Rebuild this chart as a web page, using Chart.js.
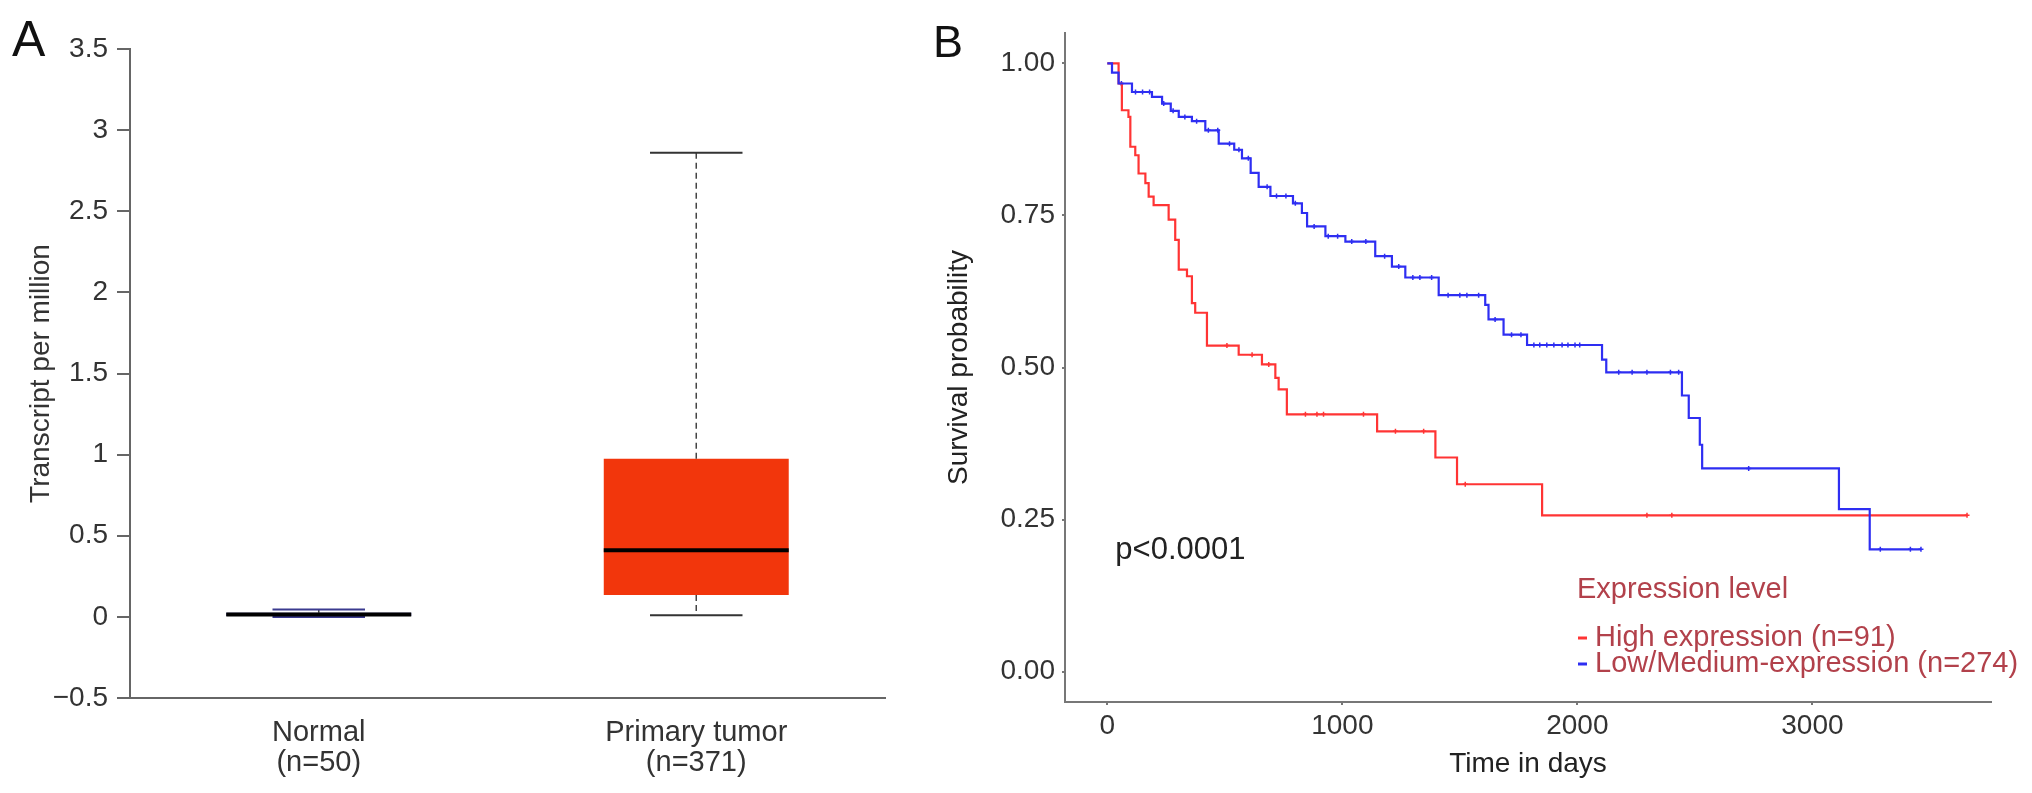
<!DOCTYPE html>
<html>
<head>
<meta charset="utf-8">
<script src="https://cdn.jsdelivr.net/npm/chart.js@4.4.1/dist/chart.umd.min.js"></script>
<style>
  html, body { margin: 0; padding: 0; background: #fff; }
  body { width: 2032px; height: 793px; position: relative; overflow: hidden; font-family: "Liberation Sans", Arial, sans-serif; }
  .panel { position: absolute; top: 0; }
  .tag { position: absolute; line-height: 1; color: #111; }
</style>
</head>
<body>
<canvas id="boxChart" class="panel" style="left:0" width="900" height="793"></canvas>
<canvas id="kmChart" class="panel" style="left:900px" width="1132" height="793"></canvas>
<div class="tag" style="left:12px;top:14px;font-size:50px">A</div>
<div class="tag" style="left:933px;top:19px;font-size:45px">B</div>
<script>
// panel A : box plot
const categories = ['Normal', 'Primary tumor'];
const sampleSizes = [50, 371];
const boxMin = [0.0, 0.01];
const boxQ1 = [0.005, 0.135];
const boxMedian = [0.015, 0.41];
const boxQ3 = [0.025, 0.975];
const boxMax = [0.045, 2.86];
const boxColors = ['#3b3b8f', '#f2360c'];
const yTicksA = [-0.5, 0, 0.5, 1, 1.5, 2, 2.5, 3, 3.5];
const yTickLabelsA = ['\u22120.5', '0', '0.5', '1', '1.5', '2', '2.5', '3', '3.5'];

// panel B : Kaplan-Meier curves (drop day, survival after the drop)
const highDays = [0, 48, 62, 90, 98, 119, 133, 162, 176, 197, 261, 289, 304, 339, 360, 374, 424, 559, 658, 715, 729, 764, 1148, 1396, 1488, 1850, 3658];
const highSurv = [1.0, 0.967, 0.923, 0.912, 0.863, 0.849, 0.819, 0.803, 0.781, 0.767, 0.743, 0.710, 0.661, 0.650, 0.606, 0.590, 0.536, 0.521, 0.505, 0.483, 0.464, 0.423, 0.395, 0.352, 0.308, 0.257, 0.257];
const lowDays = [0, 20, 48, 105, 190, 233, 270, 304, 360, 417, 474, 540, 573, 610, 644, 694, 790, 828, 850, 928, 1013, 1140, 1211, 1268, 1410, 1608, 1622, 1686, 1786, 2105, 2123, 2445, 2474, 2521, 2531, 3113, 3244, 3462];
const lowSurv = [1.0, 0.985, 0.967, 0.953, 0.945, 0.934, 0.922, 0.912, 0.905, 0.890, 0.868, 0.858, 0.844, 0.820, 0.797, 0.782, 0.770, 0.754, 0.732, 0.716, 0.707, 0.683, 0.666, 0.648, 0.619, 0.603, 0.579, 0.554, 0.537, 0.513, 0.492, 0.454, 0.417, 0.373, 0.334, 0.267, 0.201, 0.201];
const highCensor = [509, 616, 687, 843, 892, 920, 1090, 1226, 1346, 1523, 2296, 2402, 3658];
const lowCensor = [60, 120, 150, 180, 240, 280, 330, 380, 430, 470, 520, 560, 600, 680, 720, 760, 800, 880, 940, 980, 1040, 1100, 1180, 1240, 1300, 1330, 1380, 1450, 1500, 1530, 1580, 1650, 1720, 1760, 1815, 1840, 1870, 1900, 1935, 1960, 1990, 2010, 2176, 2233, 2296, 2396, 2431, 2729, 3289, 3417, 3462];
const seriesLabels = ['High expression (n=91)', 'Low/Medium-expression (n=274)'];
const seriesColors = ['#ff3434', '#2e2ef2'];
const legendTitle = 'Expression level';
const xTicksB = [0, 1000, 2000, 3000];
const yTicksB = [0, 0.25, 0.5, 0.75, 1];
const pValueText = 'p<0.0001';
const pValuePos = [34, 0.2];

const FONT = '"Liberation Sans", Arial, sans-serif';
Chart.defaults.font.family = FONT;
Chart.defaults.color = '#333';

function survAt(days, surv, t) {
  let s = surv[0];
  for (let i = 0; i < days.length; i++) {
    if (days[i] <= t) s = surv[i];
  }
  return s;
}

// whiskers, caps and medians drawn on top of the floating bars
const boxWhiskers = {
  id: 'boxWhiskers',
  afterDatasetsDraw(chart) {
    const { ctx, scales: { y } } = chart;
    const meta = chart.getDatasetMeta(0);
    ctx.save();
    categories.forEach((c, i) => {
      const bar = meta.data[i];
      const xc = bar.x, half = bar.width / 2, cap = bar.width / 4;
      ctx.strokeStyle = '#444';
      ctx.lineWidth = 1.5;
      ctx.setLineDash([6, 4]);
      ctx.beginPath();
      ctx.moveTo(xc, y.getPixelForValue(boxQ3[i]));
      ctx.lineTo(xc, y.getPixelForValue(boxMax[i]));
      ctx.moveTo(xc, y.getPixelForValue(boxQ1[i]));
      ctx.lineTo(xc, y.getPixelForValue(boxMin[i]));
      ctx.stroke();
      ctx.setLineDash([]);
      ctx.lineWidth = 2;
      ctx.strokeStyle = i === 0 ? boxColors[0] : '#333';
      ctx.beginPath();
      [boxMin[i], boxMax[i]].forEach(v => {
        const py = y.getPixelForValue(v);
        ctx.moveTo(xc - cap, py);
        ctx.lineTo(xc + cap, py);
      });
      ctx.stroke();
      ctx.lineWidth = 4;
      ctx.strokeStyle = '#000';
      const pm = y.getPixelForValue(boxMedian[i]);
      ctx.beginPath();
      ctx.moveTo(xc - half, pm);
      ctx.lineTo(xc + half, pm);
      ctx.stroke();
    });
    ctx.restore();
  }
};

new Chart(document.getElementById('boxChart'), {
  type: 'bar',
  data: {
    labels: categories.map((c, i) => [c, '(n=' + sampleSizes[i] + ')']),
    datasets: [{
      data: categories.map((c, i) => [boxQ1[i], boxQ3[i]]),
      backgroundColor: boxColors,
      borderWidth: 0,
      borderSkipped: false,
      barPercentage: 0.49,
      categoryPercentage: 1
    }]
  },
  options: {
    responsive: false,
    animation: false,
    devicePixelRatio: 1,
    layout: { padding: { top: 49, right: 15, left: 0, bottom: 0 } },
    plugins: { legend: { display: false }, tooltip: { enabled: false } },
    scales: {
      x: {
        offset: true,
        grid: { display: false },
        border: { display: true, color: '#666', width: 2 },
        ticks: { padding: 12, color: '#333', font: { size: 29, lineHeight: 1.03 } },
        afterFit: s => { s.height = 95; }
      },
      y: {
        min: -0.5,
        max: 3.5,
        afterBuildTicks: s => { s.ticks = yTicksA.map(v => ({ value: v })); },
        grid: { drawOnChartArea: false, tickLength: 13, color: '#666', lineWidth: 2 },
        border: { display: true, color: '#666', width: 2 },
        ticks: { padding: 9, color: '#333', font: { size: 28 }, callback: (v, i) => yTickLabelsA[i] },
        title: { display: true, text: 'Transcript per million', color: '#333', font: { size: 28 }, padding: { top: 24, bottom: 0 } },
        afterFit: s => { s.width = 130; }
      }
    }
  },
  plugins: [boxWhiskers]
});

// p value and legend for panel B
const kmExtras = {
  id: 'kmExtras',
  afterDraw(chart) {
    const { ctx, scales: { x, y } } = chart;
    ctx.save();
    ctx.textBaseline = 'middle';
    ctx.textAlign = 'left';
    ctx.font = '31px ' + FONT;
    ctx.fillStyle = '#222';
    ctx.fillText(pValueText, x.getPixelForValue(pValuePos[0]), y.getPixelForValue(pValuePos[1]));
    ctx.font = '29px ' + FONT;
    ctx.fillStyle = '#b2414b';
    ctx.fillText(legendTitle, 677, 590);
    seriesLabels.forEach((lab, i) => {
      const ly = 638 + i * 26;
      ctx.strokeStyle = seriesColors[i];
      ctx.lineWidth = 3;
      ctx.beginPath();
      ctx.moveTo(678, ly);
      ctx.lineTo(687, ly);
      ctx.stroke();
      ctx.fillStyle = '#b2414b';
      ctx.fillText(lab, 695, ly);
    });
    ctx.restore();
  }
};

function curve(days, surv) {
  return days.map((d, i) => ({ x: d, y: surv[i] }));
}
function censor(days, surv, marks) {
  return marks.map(t => ({ x: t, y: survAt(days, surv, t) }));
}

new Chart(document.getElementById('kmChart'), {
  type: 'line',
  data: {
    datasets: [
      { label: seriesLabels[1], data: curve(lowDays, lowSurv), borderColor: seriesColors[1], borderWidth: 2.2, stepped: true, pointRadius: 0, fill: false },
      { label: seriesLabels[0], data: curve(highDays, highSurv), borderColor: seriesColors[0], borderWidth: 2.2, stepped: true, pointRadius: 0, fill: false },
      { data: censor(lowDays, lowSurv, lowCensor), showLine: false, pointStyle: 'cross', pointRadius: 2.5, pointBorderWidth: 1.5, borderColor: seriesColors[1] },
      { data: censor(highDays, highSurv, highCensor), showLine: false, pointStyle: 'cross', pointRadius: 2.5, pointBorderWidth: 1.5, borderColor: seriesColors[0] }
    ]
  },
  options: {
    responsive: false,
    animation: false,
    devicePixelRatio: 1,
    layout: { padding: { top: 33, right: 41, left: 0, bottom: 0 } },
    plugins: { legend: { display: false }, tooltip: { enabled: false } },
    scales: {
      x: {
        type: 'linear',
        min: -180,
        max: 3760,
        afterBuildTicks: s => { s.ticks = xTicksB.map(v => ({ value: v })); },
        grid: { drawOnChartArea: false, tickLength: 3, color: '#777', lineWidth: 2 },
        border: { display: true, color: '#777', width: 2 },
        ticks: { padding: 4, color: '#333', font: { size: 28 }, callback: v => String(v) },
        title: { display: true, text: 'Time in days', color: '#222', font: { size: 28 }, padding: { top: 0, bottom: 12 } },
        afterFit: s => { s.height = 91; }
      },
      y: {
        min: -0.05,
        max: 1.05,
        afterBuildTicks: s => { s.ticks = yTicksB.map(v => ({ value: v })); },
        grid: { drawOnChartArea: false, tickLength: 3, color: '#777', lineWidth: 2 },
        border: { display: true, color: '#777', width: 2 },
        ticks: { padding: 7, color: '#333', font: { size: 28 }, callback: v => v.toFixed(2) },
        title: { display: true, text: 'Survival probability', color: '#222', font: { size: 28 }, padding: { top: 42, bottom: 0 } },
        afterFit: s => { s.width = 165; }
      }
    }
  },
  plugins: [kmExtras]
});
</script>
</body>
</html>
